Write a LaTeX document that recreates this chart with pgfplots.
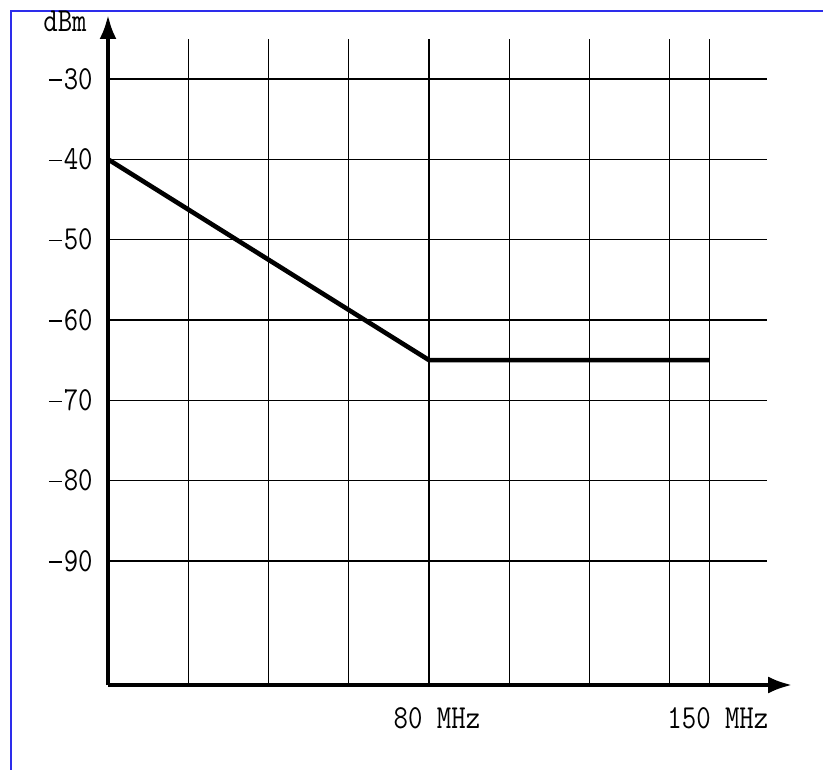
\documentclass[border=0pt]{standalone}
\usepackage{pgfplots}
\pgfplotsset{compat=1.18}
\usepackage{graphicx}
\usetikzlibrary{arrows.meta}
\definecolor{framebl}{RGB}{45,45,235}
% tall, narrow monospaced labels
\newcommand{\lbl}[1]{\scalebox{1}[1.2]{\fontsize{14}{16}\selectfont\ttfamily #1}}
% long thin minus sign for the level labels
\newcommand{\mns}{\rule[3.55pt]{6.5pt}{0.55pt}\hspace{1pt}}

\begin{document}
\begin{tikzpicture}
\useasboundingbox (-54pt,-42.5pt) rectangle (357.5pt,342.5pt);
% page frame
\draw[framebl, line width=0.9pt] (357.5pt,337pt) -- (-48.5pt,337pt) -- (-48.5pt,-42.5pt);
\begin{axis}[
  at={(0pt,0pt)}, anchor=south west,
  scale only axis, x=2.00625pt, y=4.0167pt,
  xmin=0, xmax=170, ymin=-105.44, ymax=-22,
  axis line style={draw=none}, tick style={draw=none}, major tick length=0pt,
  clip=false,
  xtick={80,150}, xticklabels={\lbl{80 MHz}, \lbl{150 MHz}},
  ytick={-90,-80,-70,-60,-50,-40,-30},
  yticklabels={\lbl{\mns90},\lbl{\mns80},\lbl{\mns70},\lbl{\mns60},\lbl{\mns50},\lbl{\mns40},\lbl{\mns30}},
  xticklabel style={anchor=north, inner sep=0pt, yshift=-11pt, xshift=4pt},
  yticklabel style={anchor=east, inner sep=0pt, xshift=-7.5pt},
]
% grid
\foreach \gx in {20,40,60,80,100,120,140,150} {
  \edef\tmp{\noexpand\draw[line width=0.6pt] (axis cs:\gx,-105.44) -- (axis cs:\gx,-25);}\tmp
}
\foreach \gy in {-90,-80,-70,-60,-50,-40,-30} {
  \edef\tmp{\noexpand\draw[line width=0.6pt] (axis cs:0,\gy) -- (axis cs:164.3,\gy);}\tmp
}
% limit curve
\addplot[black, line width=2.3pt, line join=miter] coordinates {(0,-40) (80,-65) (150,-65)};
% axes with arrows
\draw[line width=1.9pt, -{Latex[length=12pt,width=8.5pt]}] (axis cs:0,-105.44) -- (axis cs:170.5,-105.44);
\draw[line width=1.9pt, -{Latex[length=12pt,width=8.5pt]}] (axis cs:0,-105.44) -- (axis cs:0,-22.04);
\end{axis}
\node at (-21.5pt,331.75pt) {\lbl{dBm}};
\end{tikzpicture}
\end{document}
